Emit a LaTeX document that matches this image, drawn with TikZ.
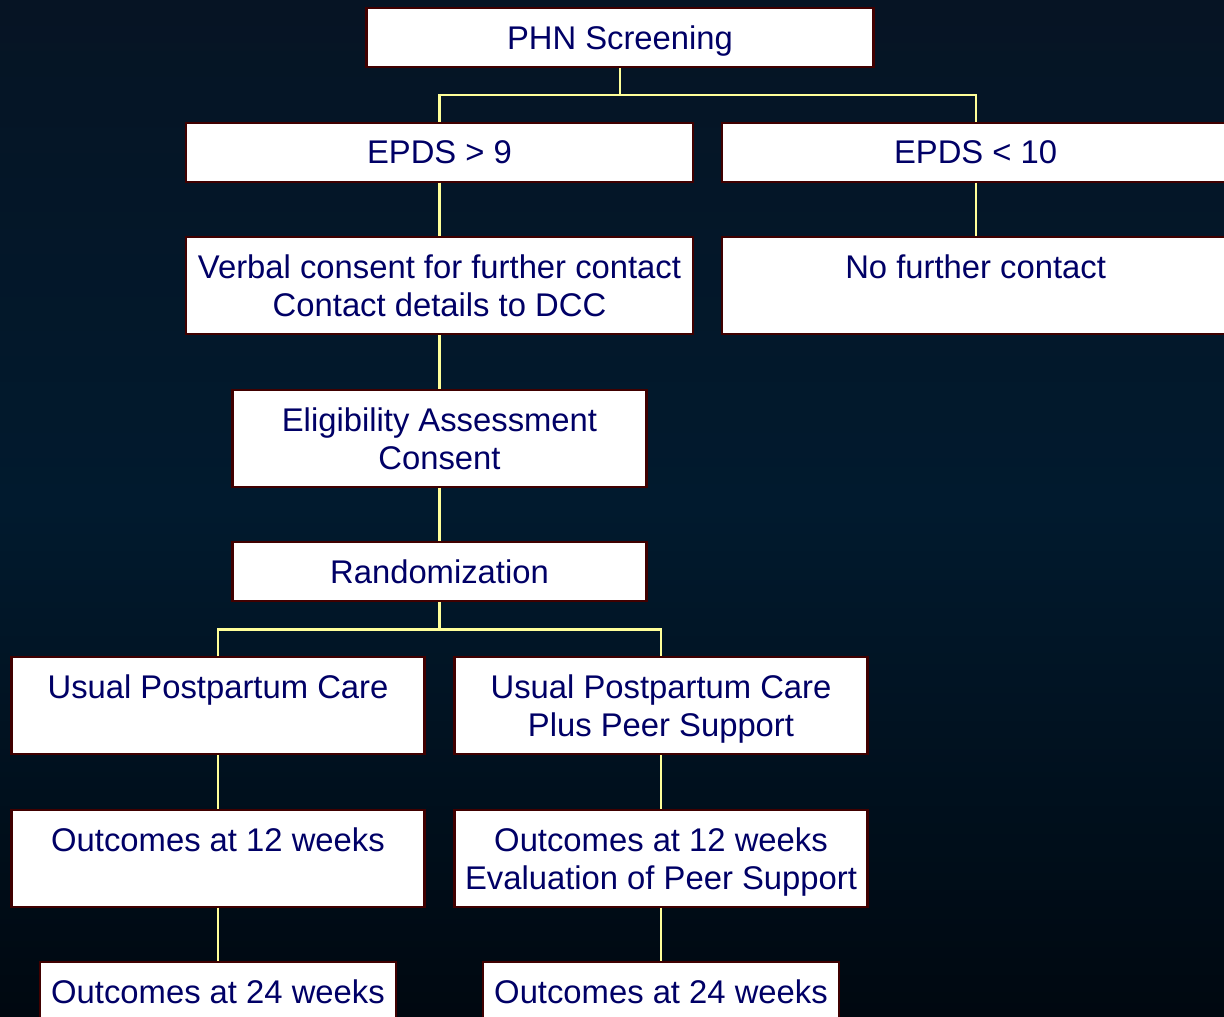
\documentclass[tikz,border=0pt]{standalone}
\usepackage{fontspec}
\setmainfont{Liberation Sans}
\usepackage{xcolor}
\usetikzlibrary{positioning}

\definecolor{bgtop}{RGB}{6,20,36}
\definecolor{bgmid}{RGB}{1,26,46}
\definecolor{bgbot}{RGB}{0,8,16}
\definecolor{boxline}{RGB}{64,0,0}
\definecolor{boxtext}{RGB}{0,0,102}
\definecolor{linkline}{RGB}{255,255,153}

\begin{document}
\begin{tikzpicture}[
    node distance=0.535cm and 0.27cm,
    box/.style={
        rectangle,
        draw=boxline,
        line width=0.6pt,
        fill=white,
        text=boxtext,
        align=center,
        inner sep=0pt,
        text depth=0pt,
        font=\fontsize{9.33}{10.8}\selectfont,
        minimum height=0.59cm
    },
    wide/.style={box, minimum width=5.07cm},
    mid/.style={box, minimum width=4.14cm},
    arm/.style={box, minimum width=4.13cm},
    last/.style={box, minimum width=3.56cm},
    tall/.style={minimum height=0.97cm},
    link/.style={draw=linkline, line width=0.6pt}
]

\shade[top color=bgtop, bottom color=bgbot, middle color=bgmid] (0,0) rectangle (12.24,-10.17);
\useasboundingbox (0,0) rectangle (12.24,-10.17);

\node[wide] (phn) at (6.2,-0.375) {PHN Screening};
\node[wide, below=of phn, xshift=-1.805cm] (epdshi) {EPDS > 9};
\node[wide, right=of epdshi] (epdslo) {EPDS < 10};

\node[wide, tall, below=of epdshi] (verbal) {Verbal consent for further contact\\Contact details to DCC};
\node[wide, tall, below=of epdslo] (nocontact) {No further contact\\~};

\node[mid, tall, below=of verbal] (elig) {Eligibility Assessment\\Consent};
\node[mid, below=of elig] (random) {Randomization};

\node[arm, tall, below=of random, xshift=-2.215cm] (usual) {Usual Postpartum Care\\~};
\node[arm, tall, below=of random, xshift=2.215cm] (peer) {Usual Postpartum Care\\Plus Peer Support};

\node[arm, tall, below=of usual] (usualwk12) {Outcomes at 12 weeks\\~};
\node[arm, tall, below=of peer] (peerwk12) {Outcomes at 12 weeks\\Evaluation of Peer Support};

\node[last, below=of usualwk12] (usualwk24) {Outcomes at 24 weeks};
\node[last, below=of peerwk12] (peerwk24) {Outcomes at 24 weeks};

\draw[link] (phn.south) -- ++(0,-0.27) -| (epdshi.north);
\draw[link] (phn.south) -- ++(0,-0.27) -| (epdslo.north);
\draw[link] (epdshi) -- (verbal);
\draw[link] (epdslo) -- (nocontact);
\draw[link] (verbal) -- (elig);
\draw[link] (elig) -- (random);

\draw[link] (random.south) -- ++(0,-0.27) -| (usual.north);
\draw[link] (random.south) -- ++(0,-0.27) -| (peer.north);

\draw[link] (usual) -- (usualwk12);
\draw[link] (usualwk12) -- (usualwk24);
\draw[link] (peer) -- (peerwk12);
\draw[link] (peerwk12) -- (peerwk24);

\end{tikzpicture}
\end{document}
